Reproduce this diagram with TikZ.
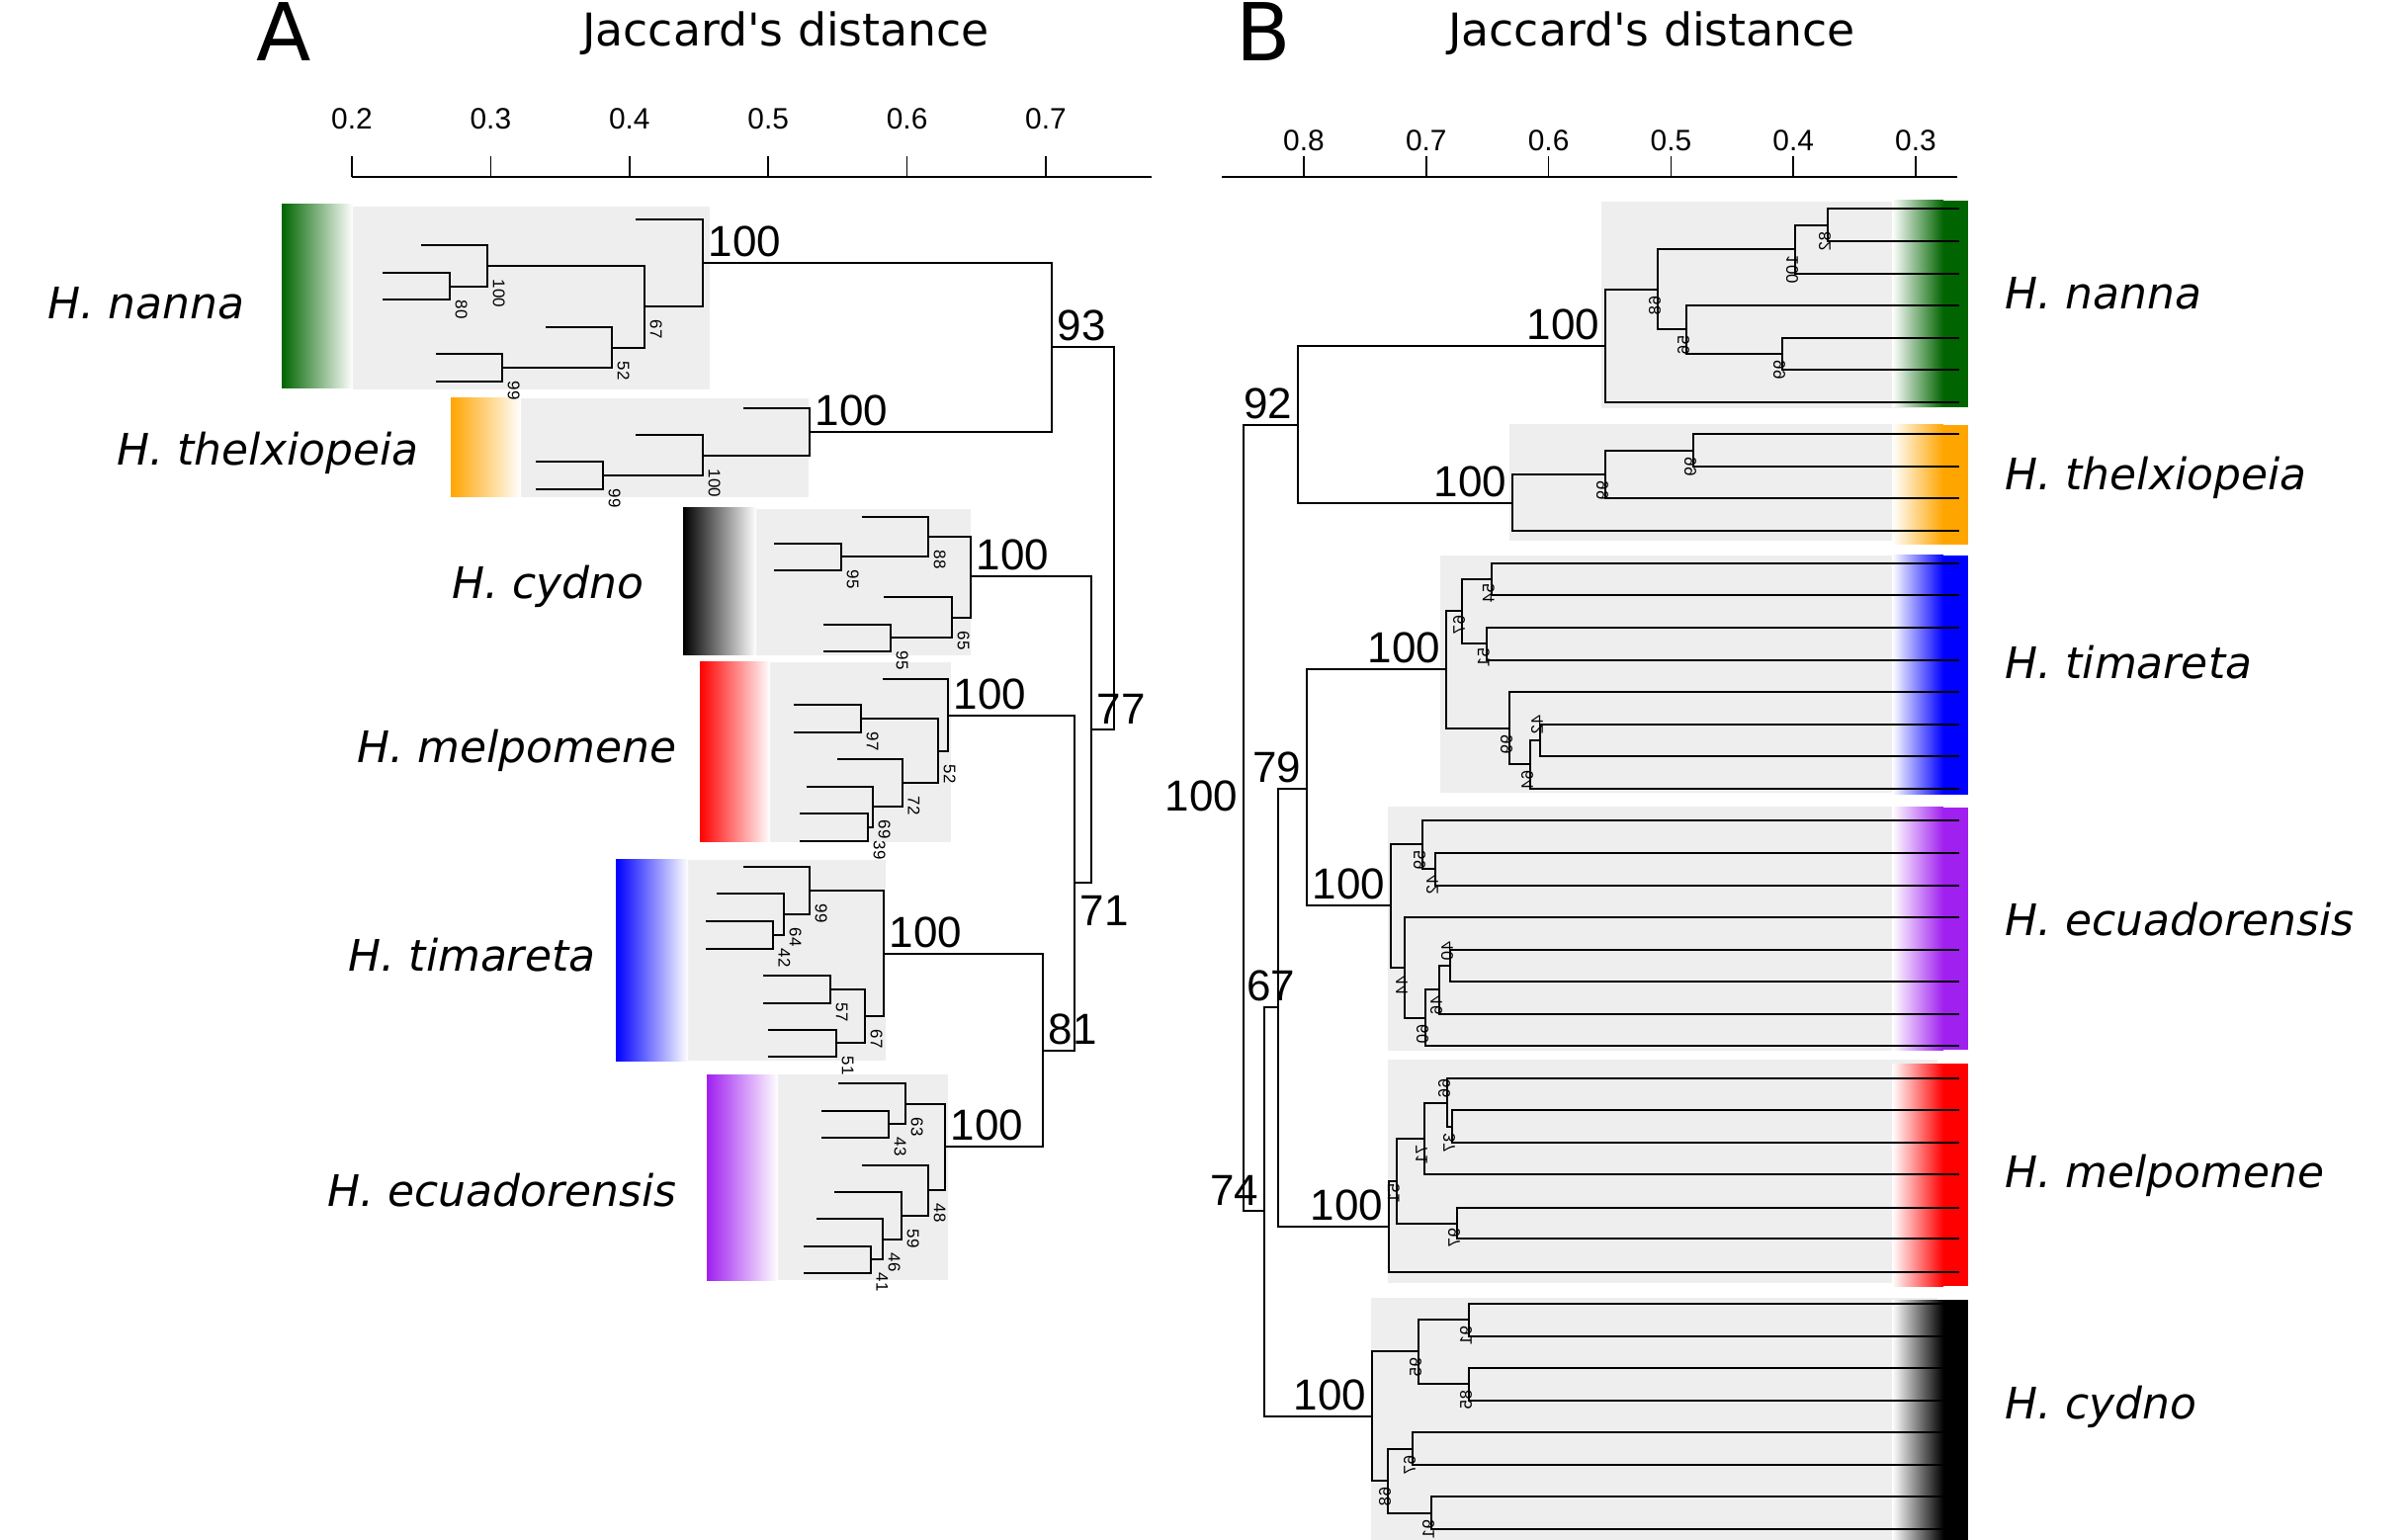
\documentclass[tikz,border=0pt]{standalone}
\usepackage{fontspec}
\setmainfont{DejaVu Sans}
\newfontfamily\numfont{Liberation Sans}

\definecolor{hgreen}{RGB}{0,100,0}
\definecolor{horange}{RGB}{255,165,0}
\definecolor{hpurple}{RGB}{160,32,240}
\definecolor{boxgrey}{RGB}{238,238,238}

% internal node with small support value, panel A (tree grows to the left)
\newcommand{\anode}[4]{\coordinate (#1) at (#2,#3); \node[sa] (#1l) at ({#2+5},{#3+13}) {#4};}
\newcommand{\aroot}[4]{\coordinate (#1) at (#2,#3); \node[supa] (#1l) at (#1) {#4};}
% same for panel B (tree grows to the right, labels mirrored)
\newcommand{\bnode}[5][6]{\coordinate (#2) at (#3,#4); \node[sb] (#2l) at ({#3-3},{#4+(#1)}) {#5};}
\newcommand{\broot}[4]{\coordinate (#1) at (#2,#3); \node[supb] (#1l) at (#1) {#4};}

\begin{document}
\begin{tikzpicture}[x=0.01cm, y=-0.01cm,
  tree/.style={line width=0.5pt},
  sa/.style={font=\numfont\fontsize{4.8}{5}\selectfont, rotate=-90, anchor=south west, inner sep=0pt},
  sb/.style={font=\numfont\fontsize{4.8}{5}\selectfont, rotate=-90, yscale=-1, anchor=west, inner sep=0pt},
  supa/.style={font=\numfont\fontsize{12.5}{14}\selectfont, anchor=south west, inner sep=1.5pt},
  supb/.style={font=\numfont\fontsize{12.5}{14}\selectfont, anchor=south east, inner sep=1.5pt},
  species/.style={font=\itshape\fontsize{12.5}{15}\selectfont, inner sep=0pt},
  ticklab/.style={font=\numfont\fontsize{8.5}{10}\selectfont, anchor=base, inner sep=0pt},
  axtitle/.style={font=\fontsize{13}{15}\selectfont, anchor=base, inner sep=0pt},
  panellab/.style={font=\fontsize{23}{26}\selectfont, anchor=base, inner sep=0pt}]

\useasboundingbox (0,0) rectangle (2435,1558);
\fill[white] (0,0) rectangle (2435,1558);

% ---------------- panel A ----------------
\node[panellab] (labA) at (287,62) {A};
\node[axtitle] (jacA) at (795,47) {Jaccard\textquotesingle s distance};
\draw[tree] (356,179) -- (1165,179);
\foreach \v [count=\k from 0] in {0.2,0.3,0.4,0.5,0.6,0.7} {
  \draw[tree] (356+140.4*\k,179) -- (356+140.4*\k,158);
  \node[ticklab] (ta\k) at (356+140.4*\k,131) {\v};
}

\foreach \xa/\ya/\xb/\yb in {357/209/718/394, 527/403/818/503, 765/515/982/663,
    779/670/962/852, 696/870/896/1073, 787/1087/959/1295}
  \fill[boxgrey] (\xa,\ya) rectangle (\xb,\yb);
\foreach \c/\xa/\ya/\xb/\yb in {hgreen/285/207/357/393, horange/456/403/527/503,
    black/691/514/765/663, red/708/670/779/852, blue/623/870/696/1073,
    hpurple/715/1087/787/1295}
  \shade[left color=\c, right color=white] (\xa,\ya) rectangle (\xb,\yb);

% H. nanna
\aroot{nR}{711}{266}{100}
\anode{n67}{652}{310}{67}
\anode{n100}{493}{269}{100}
\anode{n80}{455}{290}{80}
\anode{n52}{619}{352}{52}
\anode{n99}{508}{372}{99}
% H. thelxiopeia
\aroot{tR}{819}{437}{100}
\anode{t100}{711}{461}{100}
\anode{t99}{610}{481}{99}
% H. cydno
\aroot{cR}{982}{583}{100}
\anode{c88}{939}{543}{88}
\anode{c95a}{851}{563}{95}
\anode{c65}{963}{625}{65}
\anode{c95b}{901}{645}{95}
% H. melpomene
\aroot{mR}{959}{724}{100}
\anode{m52}{949}{760}{52}
\anode{m97}{871}{727}{97}
\anode{m72}{913}{792}{72}
\anode{m69}{883}{816}{69}
\anode{m39}{878}{837}{39}
% H. timareta
\aroot{iR}{894}{965}{100}
\anode{i99}{819}{901}{99}
\anode{i64}{793}{925}{64}
\anode{i42}{782}{946}{42}
\anode{i67}{875}{1028}{67}
\anode{i57}{840}{1001}{57}
\anode{i51}{846}{1055}{51}
% H. ecuadorensis
\aroot{eR}{956}{1160}{100}
\anode{e63}{916}{1117}{63}
\anode{e43}{899}{1137}{43}
\anode{e48}{939}{1204}{48}
\anode{e59}{912}{1230}{59}
\anode{e46}{893}{1254}{46}
\anode{e41}{881}{1274}{41}
% between species
\aroot{a93}{1064}{351}{93}
\aroot{a77}{1104}{738}{77}
\aroot{a81}{1055}{1063}{81}
\coordinate (a71) at (1087,893);
\node[supa, anchor=north west] (a71l) at (1087,900) {71};
\coordinate (aR) at (1127,545);

\foreach \n/\x/\y in {nl1/643/222, nl2/426/248, nl3/387/276, nl4/387/303,
    nl5/552/331, nl6/441/358, nl7/441/386,
    tl1/752/413, tl2/643/440, tl3/542/467, tl4/542/495,
    cl1/872/523, cl2/783/550, cl3/783/577, cl4/894/604, cl5/833/632, cl6/833/659,
    ml1/893/687, ml2/803/713, ml3/803/741, ml4/847/768, ml5/816/796,
    ml6/809/823, ml7/809/851,
    il1/752/877, il2/725/904, il3/714/932, il4/714/960, il5/772/987,
    il6/772/1015, il7/777/1042, il8/777/1069,
    el1/848/1096, el2/831/1124, el3/831/1151, el4/872/1179, el5/844/1206,
    el6/826/1233, el7/813/1261, el8/813/1288}
  \coordinate (\n) at (\x,\y);

\foreach \p/\c in {nR/nl1, nR/n67, n67/n100, n67/n52, n100/nl2, n100/n80,
    n80/nl3, n80/nl4, n52/nl5, n52/n99, n99/nl6, n99/nl7,
    tR/tl1, tR/t100, t100/tl2, t100/t99, t99/tl3, t99/tl4,
    cR/c88, cR/c65, c88/cl1, c88/c95a, c95a/cl2, c95a/cl3, c65/cl4, c65/c95b,
    c95b/cl5, c95b/cl6,
    mR/ml1, mR/m52, m52/m97, m52/m72, m97/ml2, m97/ml3, m72/ml4, m72/m69,
    m69/ml5, m69/m39, m39/ml6, m39/ml7,
    iR/i99, iR/i67, i99/il1, i99/i64, i64/il2, i64/i42, i42/il3, i42/il4,
    i67/i57, i67/i51, i57/il5, i57/il6, i51/il7, i51/il8,
    eR/e63, eR/e48, e63/el1, e63/e43, e43/el2, e43/el3, e48/el4, e48/e59,
    e59/el5, e59/e46, e46/el6, e46/e41, e41/el7, e41/el8,
    aR/a93, aR/a77, a93/nR, a93/tR, a77/cR, a77/a71, a71/mR, a71/a81,
    a81/iR, a81/eR}
  \draw[tree] (\p) |- (\c);

\node[species, anchor=base east] (spAn) at (248,323) {H. nanna};
\node[species, anchor=base east] (spAt) at (424,471) {H. thelxiopeia};
\node[species, anchor=base east] (spAc) at (652,606) {H. cydno};
\node[species, anchor=base east] (spAm) at (685,772) {H. melpomene};
\node[species, anchor=base east] (spAi) at (603,982) {H. timareta};
\node[species, anchor=base east] (spAe) at (685,1220) {H. ecuadorensis};

% ---------------- panel B ----------------
\node[panellab] (labB) at (1278,62) {B};
\node[axtitle] (jacB) at (1671,47) {Jaccard\textquotesingle s distance};
\draw[tree] (1236,179) -- (1980,179);
\foreach \v [count=\k from 0] in {0.8,0.7,0.6,0.5,0.4,0.3} {
  \draw[tree] (1319+123.8*\k,179) -- (1319+123.8*\k,158);
  \node[ticklab] (tb\k) at (1319+123.8*\k,153) {\v};
}

\foreach \xa/\ya/\yb in {1620/204/413, 1527/429/547, 1457/562/802,
    1404/816/1063, 1404/1072/1298, 1387/1313/1558}
  \fill[boxgrey] (\xa,\ya) rectangle (1960,\yb);
\foreach \c/\ya/\yb in {hgreen/203/412, horange/430/551, blue/562/804,
    hpurple/817/1062, red/1076/1301, black/1315/1558} {
  \shade[left color=white, right color=\c] (1914,\ya) rectangle (1966,\yb);
  \fill[\c] (1966,\ya) rectangle (1991,\yb);
}

% H. nanna
\broot{pR}{1624}{350}{100}
\bnode{p68}{1677}{293}{68}
\bnode{p100}{1816}{252}{100}
\bnode{p82}{1849}{228}{82}
\bnode{p56}{1706}{333}{56}
\bnode{p99}{1803}{358}{99}
% H. thelxiopeia
\broot{qR}{1530}{509}{100}
\bnode{q99a}{1624}{480}{99}
\bnode{q99b}{1713}{456}{99}
% H. timareta
\broot{rR}{1463}{677}{100}
\bnode[4]{r67}{1479}{618}{67}
\bnode[4]{r54}{1509}{586}{54}
\bnode[4]{r51}{1504}{651}{51}
\bnode{r99}{1527}{737}{99}
\bnode{r64}{1548}{773}{64}
\bnode[-26]{r42}{1558}{749}{42}
% H. ecuadorensis
\broot{sR}{1407}{916}{100}
\bnode{s59}{1439}{854}{59}
\bnode{s42}{1452}{879}{42}
\bnode[8]{s44}{1421}{979}{44}
\bnode{s60}{1442}{1030}{60}
\bnode{s46}{1456}{1001}{46}
\bnode[-25]{s40}{1467}{977}{40}
% H. melpomene
\broot{uR}{1405}{1241}{100}
\bnode[2]{u51}{1413}{1195}{51}
\bnode{u71}{1441}{1152}{71}
\bnode[-25]{u66}{1464}{1116}{66}
\bnode{u37}{1469}{1140}{37}
\bnode[4]{u97}{1474}{1238}{97}
% H. cydno
\broot{vR}{1388}{1433}{100}
\bnode{v95}{1435}{1367}{95}
\bnode{v91a}{1486}{1335}{91}
\bnode{v85}{1486}{1400}{85}
\bnode{v68}{1404}{1498}{68}
\bnode{v67}{1429}{1466}{67}
\bnode{v91b}{1448}{1531}{91}
% between species
\broot{b92}{1313}{430}{92}
\broot{b79}{1322}{798}{79}
\broot{b74}{1279}{1225}{74}
\broot{bR}{1258}{827}{100}
\coordinate (b67) at (1293,1019);
\node[supb] (b67l) at (1316,1019) {67};

\foreach \n/\y in {pl1/211, pl2/244, pl3/277, pl4/309, pl5/342, pl6/374, pl7/407,
    ql1/439, ql2/472, ql3/504, ql4/537,
    rl1/570, rl2/602, rl3/635, rl4/668, rl5/700, rl6/733, rl7/765, rl8/798,
    sl1/830, sl2/863, sl3/896, sl4/928, sl5/961, sl6/993, sl7/1026, sl8/1058,
    ul1/1091, ul2/1123, ul3/1156, ul4/1188, ul5/1222, ul6/1253, ul7/1287,
    vl1/1319, vl2/1352, vl3/1384, vl4/1417, vl5/1449, vl6/1482, vl7/1514, vl8/1547}
  \coordinate (\n) at (1982,\y);

\foreach \p/\c in {pR/p68, pR/pl7, p68/p100, p68/p56, p100/p82, p100/pl3,
    p82/pl1, p82/pl2, p56/pl4, p56/p99, p99/pl5, p99/pl6,
    qR/q99a, qR/ql4, q99a/q99b, q99a/ql3, q99b/ql1, q99b/ql2,
    rR/r67, rR/r99, r67/r54, r67/r51, r54/rl1, r54/rl2, r51/rl3, r51/rl4,
    r99/rl5, r99/r64, r64/r42, r64/rl8, r42/rl6, r42/rl7,
    sR/s59, sR/s44, s59/sl1, s59/s42, s42/sl2, s42/sl3, s44/sl4, s44/s60,
    s60/s46, s60/sl8, s46/s40, s46/sl7, s40/sl5, s40/sl6,
    uR/u51, uR/ul7, u51/u71, u51/u97, u71/u66, u71/ul4, u66/ul1, u66/u37,
    u37/ul2, u37/ul3, u97/ul5, u97/ul6,
    vR/v95, vR/v68, v95/v91a, v95/v85, v91a/vl1, v91a/vl2, v85/vl3, v85/vl4,
    v68/v67, v68/v91b, v67/vl5, v67/vl6, v91b/vl7, v91b/vl8,
    bR/b92, bR/b74, b92/pR, b92/qR, b74/b67, b74/vR, b67/b79, b67/uR,
    b79/rR, b79/sR}
  \draw[tree] (\p) |- (\c);

\node[species, anchor=base west] (spBn) at (2028,313) {H. nanna};
\node[species, anchor=base west] (spBt) at (2028,496) {H. thelxiopeia};
\node[species, anchor=base west] (spBi) at (2028,687) {H. timareta};
\node[species, anchor=base west] (spBe) at (2028,946) {H. ecuadorensis};
\node[species, anchor=base west] (spBm) at (2028,1201) {H. melpomene};
\node[species, anchor=base west] (spBc) at (2028,1435) {H. cydno};

\end{tikzpicture}
\end{document}
